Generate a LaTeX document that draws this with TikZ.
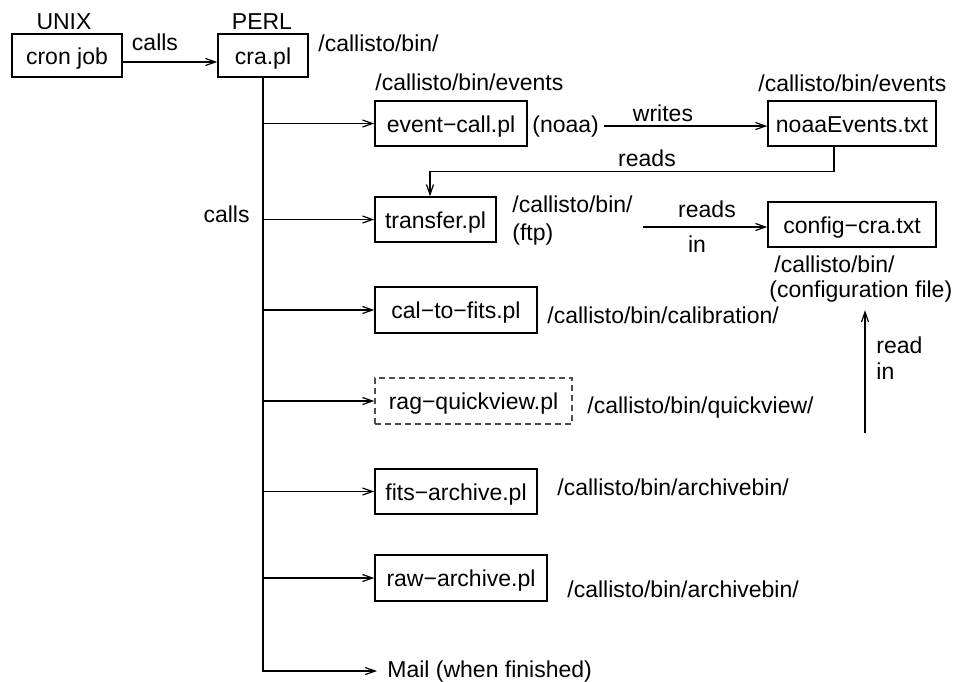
\documentclass[tikz,border=0pt]{standalone}
\usepackage{fontspec}
\setmainfont{Liberation Sans}
\usetikzlibrary{arrows.meta}

\begin{document}
\begin{tikzpicture}[x=0.5pt, y=-0.5pt,
        every node/.style={font=\fontsize{11.5}{13.5}\selectfont},
        box/.style={draw, line width=0.7pt, minimum height=22.5pt, inner sep=0pt, text height=9.5pt, text depth=1pt},
        dbox/.style={box, draw=black!70, dash pattern=on 3pt off 2pt},
        lbl/.style={anchor=base west, inner sep=0pt},
        clbl/.style={anchor=base, inner sep=0pt},
        arr/.style={line width=0.6pt, -{Straight Barb[length=5pt, width=3.5pt]}}]
        \useasboundingbox (0,0) rectangle (957,681);
        \node[box, minimum width=55pt, minimum height=21.5pt] (cron) at (67,55.5) {cron job};
        \node[box, minimum width=45pt, minimum height=21.5pt] (cra) at (263,55.5) {cra.pl};
        \node[box, minimum width=76pt] (ev) at (451,123.5) {event−call.pl};
        \node[box, minimum width=84pt] (noaa) at (852,123.5) {noaaEvents.txt};
        \node[box, minimum width=60.5pt] (tr) at (435.5,219.5) {transfer.pl};
        \node[box, minimum width=84pt] (cfg) at (852,224.5) {config−cra.txt};
        \node[box, minimum width=81pt, minimum height=23pt] (cal) at (456,310) {cal−to−fits.pl};
        \node[dbox, minimum width=98.5pt, minimum height=23pt] (rag) at (473.5,401) {rag−quickview.pl};
        \node[box, minimum width=81pt] (fits) at (456,491.5) {fits−archive.pl};
        \node[box, minimum width=86pt, minimum height=23pt] (raw) at (461,578) {raw−archive.pl};
        \node[lbl] (mail) at (387,677) {Mail (when finished)};
        \node[clbl] (unix) at (64,29) {UNIX};
        \node[clbl] (perl) at (262,29) {PERL};
        \node[clbl] (calls) at (155,50) {calls};
        \node[anchor=base east, inner sep=0pt] (callsT) at (250,222) {calls};
        \node[lbl] (craP) at (318,51) {/callisto/bin/};
        \node[lbl] (evP) at (375,90) {/callisto/bin/events};
        \node[lbl] (noaaP) at (758,91) {/callisto/bin/events};
        \node[lbl] (noaaL) at (532,132) {(noaa)};
        \node[clbl] (writes) at (663,121) {writes};
        \node[clbl] (reads) at (647,166) {reads};
        \node[lbl] (trP) at (512,212) {/callisto/bin/};
        \node[lbl] (ftp) at (512,240) {(ftp)};
        \node[clbl] (readsB) at (707,217) {reads};
        \node[clbl] (inB) at (697,252) {in};
        \node[lbl] (cfgP) at (774,272) {/callisto/bin/};
        \node[lbl] (cfgF) at (769,297) {(configuration file)};
        \node[lbl] (calP) at (547,323) {/callisto/bin/calibration/};
        \node[lbl] (read) at (876,353) {read};
        \node[lbl] (readin) at (876,379) {in};
        \node[lbl] (ragP) at (587,413) {/callisto/bin/quickview/};
        \node[lbl] (fitsP) at (557,495) {/callisto/bin/archivebin/};
        \node[lbl] (rawP) at (567,597) {/callisto/bin/archivebin/};
        \coordinate (cfgin) at (643,227);
        \coordinate (ribot) at (865,433);
        \draw[arr] ([yshift=-3.25pt]cron.east) -- ([yshift=-3.25pt]cra.west);
        \draw[arr, shorten >=5pt] (cra.south) |- (mail.west);
        \foreach \n in {ev,tr,cal,rag,fits,raw}
            \draw[arr] (cra.south |- \n.west) -- (\n.west);
        \draw[arr, shorten <=2.5pt] (noaaL.east) -- (noaaL.east -| noaa.west);
        \draw[arr] ([xshift=-9pt]noaa.south) -- ++(0,-12.5pt) -| ([xshift=-2.75pt]tr.north);
        \draw[arr] (cfgin) -- (cfgin -| cfg.west);
        \draw[arr, shorten >=4pt] (ribot) -- (ribot |- cfgF.south);
    \end{tikzpicture}
\end{document}
